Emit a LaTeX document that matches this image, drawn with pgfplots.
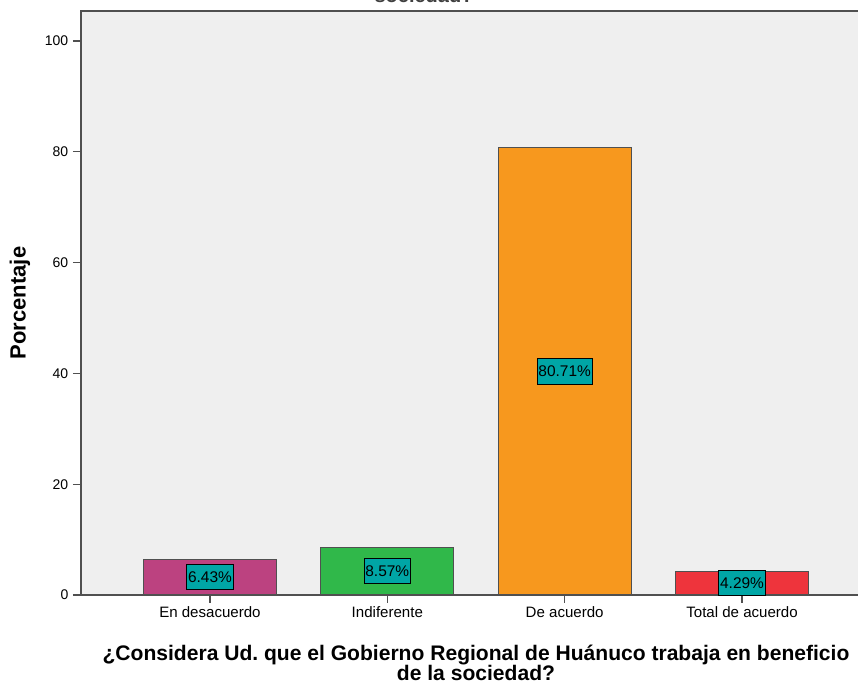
\documentclass[border=0pt]{standalone}
\usepackage{pgfplots}
\usepackage{pgfplotstable}
\pgfplotsset{compat=1.18}
\usepackage{fontspec}
\setmainfont{Liberation Sans}
\frenchspacing

\definecolor{bgc}{RGB}{239,239,239}
\definecolor{axc}{RGB}{80,80,80}
\definecolor{cmag}{RGB}{188,66,128}
\definecolor{cgreen}{RGB}{48,184,74}
\definecolor{corange}{RGB}{247,152,30}
\definecolor{cred}{RGB}{238,52,60}
\definecolor{cteal}{RGB}{0,166,166}

\pgfplotstableread{
x y lab
0 6.43 6.43\%
1 8.57 8.57\%
2 80.71 80.71\%
3 4.29 4.29\%
}\datatab

\begin{document}
\begin{tikzpicture}
% page = 858 x 686 px at 0.75pt per px
\useasboundingbox (0pt,0pt) rectangle (643.5pt,514.5pt);
\begin{axis}[
  scale only axis,
  width=592.5pt, height=438pt,
  at={(60.75pt,68.25pt)}, anchor=south west,
  xmin=-0.727, xmax=3.727,
  ymin=0, ymax=105.4,
  ytick={0,20,...,100},
  xtick={0,1,2,3},
  xticklabels={En desacuerdo, Indiferente, De acuerdo, Total de acuerdo},
  xtick pos=bottom, ytick pos=left,
  tick align=outside, major tick length=6pt,
  axis background/.style={fill=bgc},
  axis line style={draw=axc, line width=1.3pt},
  tick style={draw=axc, line width=1pt},
  xticklabel style={font=\fontsize{11.3}{13}\selectfont, yshift=1pt},
  yticklabel style={font=\fontsize{10.5}{12}\selectfont,
    /pgf/number format/assume math mode=true},
  ylabel={Porcentaje},
  ylabel style={font=\bfseries\fontsize{16.5}{18}\selectfont,
    at={(axis description cs:-0.0772,0.5)}, anchor=center},
  xlabel={¿Considera Ud. que el Gobierno Regional de Huánuco trabaja en beneficio\\de la sociedad?},
  xlabel style={font=\bfseries\fontsize{15.8}{15.3}\selectfont, align=center,
    at={(axis description cs:0.5,-0.077)}, anchor=north},
  clip=false,
]
\addplot[ybar, bar width=0.75, bar shift=0pt, fill=cmag, draw=axc, line width=0.8pt]
  coordinates {(0,6.43)};
\addplot[ybar, bar width=0.75, bar shift=0pt, fill=cgreen, draw=axc, line width=0.8pt]
  coordinates {(1,8.57)};
\addplot[ybar, bar width=0.75, bar shift=0pt, fill=corange, draw=axc, line width=0.8pt]
  coordinates {(2,80.71)};
\addplot[ybar, bar width=0.75, bar shift=0pt, fill=cred, draw=axc, line width=0.8pt]
  coordinates {(3,4.29)};
% value labels at half bar height
\addplot[draw=none, mark=none, nodes near coords, point meta=explicit symbolic,
  every node near coord/.style={anchor=center, fill=cteal, draw=black, line width=0.8pt,
    inner xsep=1pt, inner ysep=0pt, minimum height=19pt,
    font=\fontsize{11.6}{13}\selectfont, text=black}]
  table[x=x, y expr=\thisrow{y}/2, meta=lab] {\datatab};
\end{axis}
\node[font=\bfseries\fontsize{15}{16}\selectfont, anchor=base, text=black!75] at (318pt,512.6pt) {sociedad?};
\end{tikzpicture}
\end{document}
